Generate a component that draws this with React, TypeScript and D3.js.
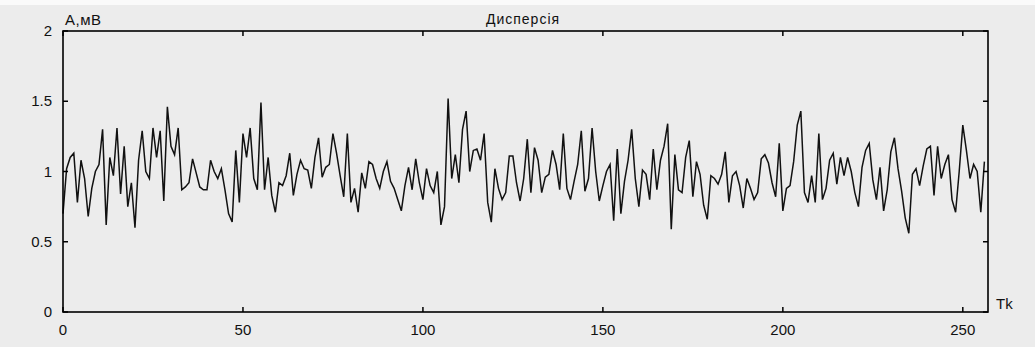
import React from "react";
import * as d3 from "d3";

const values: number[] = [
  0.70, 1.02, 1.10, 1.13, 0.78, 1.08, 0.95, 0.68, 0.88, 1.00,
  1.05, 1.30, 0.62, 1.10, 0.97, 1.31, 0.84, 1.18, 0.75, 0.92,
  0.60, 1.08, 1.29, 1.00, 0.95, 1.31, 1.10, 1.29, 0.79, 1.46,
  1.18, 1.12, 1.31, 0.87, 0.89, 0.92, 1.09, 0.99, 0.89, 0.87,
  0.87, 1.08, 1.00, 0.95, 1.02, 0.87, 0.70, 0.64, 1.15, 0.78,
  1.27, 1.10, 1.31, 0.95, 0.87, 1.49, 0.87, 1.10, 0.83, 0.71,
  0.92, 0.90, 0.97, 1.13, 0.83, 0.98, 1.08, 1.02, 1.01, 0.88,
  1.10, 1.24, 0.96, 1.03, 1.05, 1.27, 1.13, 0.97, 0.82, 1.27,
  0.78, 0.88, 0.71, 0.99, 0.88, 1.07, 1.05, 0.95, 0.88, 1.00,
  1.07, 0.93, 0.88, 0.80, 0.72, 0.90, 1.03, 0.87, 1.09, 0.92,
  0.80, 1.02, 0.90, 0.85, 1.00, 0.62, 0.75, 1.52, 0.95, 1.12,
  0.92, 1.30, 1.43, 1.00, 1.15, 1.16, 1.08, 1.27, 0.78, 0.64,
  1.02, 0.88, 0.80, 0.85, 1.11, 1.11, 0.92, 0.79, 0.95, 1.23,
  0.85, 1.17, 1.08, 0.85, 0.96, 0.98, 1.15, 1.05, 0.87, 1.27,
  0.88, 0.80, 0.93, 1.05, 1.29, 0.86, 0.95, 1.31, 1.00, 0.79,
  0.90, 1.00, 1.05, 0.65, 1.16, 0.70, 0.93, 1.08, 1.30, 0.95,
  0.75, 1.01, 0.98, 0.80, 1.16, 0.87, 1.08, 1.18, 1.34, 0.59,
  1.12, 0.87, 0.85, 1.10, 1.22, 0.82, 1.07, 0.98, 0.76, 0.66,
  0.97, 0.95, 0.91, 0.98, 1.14, 0.78, 0.97, 1.00, 0.90, 0.74,
  0.95, 0.88, 0.80, 0.85, 1.09, 1.12, 1.06, 0.92, 0.82, 1.20,
  0.72, 0.88, 0.90, 1.07, 1.33, 1.43, 0.85, 0.78, 0.97, 0.78,
  1.27, 0.80, 0.88, 1.08, 1.13, 0.91, 1.10, 0.97, 1.10, 1.00,
  0.85, 0.75, 1.03, 1.15, 1.20, 0.94, 0.80, 1.03, 0.72, 0.87,
  1.14, 1.24, 1.02, 0.86, 0.67, 0.56, 0.98, 1.02, 0.90, 1.04,
  1.16, 1.18, 0.83, 1.18, 0.95, 1.05, 1.12, 0.80, 0.71, 1.00,
  1.33, 1.15, 0.95, 1.05, 1.00, 0.71, 1.07,
];

const xTicks = [0, 50, 100, 150, 200, 250];
const yTicks = [0, 0.5, 1, 1.5, 2];
const yTickLabels = ["0", "0.5", "1", "1.5", "2"];
const title = "Дисперсія";
const yLabel = "A,мВ";
const xLabel = "Tk";

const W = 1035;
const H = 347;
const L = 63, R = 988, T = 31, B = 312;

export default function App() {
  const x = d3.scaleLinear().domain([0, 257]).range([L, R]);
  const y = d3.scaleLinear().domain([0, 2]).range([B, T]);
  const line = d3
    .line<number>()
    .x((_, i) => x(i))
    .y((d) => y(d));
  const font = "'Liberation Sans', Arial, sans-serif";
  const tl = 5;
  return (
    <svg
      width={W}
      height={H}
      style={{ position: "absolute", left: 0, top: 0, display: "block" }}
      fontFamily={font}
    >
      <rect x={0} y={0} width={W} height={H} fill="#ececec" />
      <rect x={0} y={0} width={W} height={5} fill="#fafafa" />
      <path d={line(values) || ""} fill="none" stroke="#111" strokeWidth={1.5} />
      <rect x={L} y={T} width={R - L} height={B - T} fill="none" stroke="#000" strokeWidth={1.6} />
      {xTicks.map((t) => (
        <g key={"x" + t}>
          <line x1={x(t)} x2={x(t)} y1={B} y2={B - tl} stroke="#000" strokeWidth={1.5} />
          <line x1={x(t)} x2={x(t)} y1={T} y2={T + tl} stroke="#000" strokeWidth={1.5} />
          <text x={x(t)} y={335} fontSize={15} textAnchor="middle" fill="#111">
            {t}
          </text>
        </g>
      ))}
      {yTicks.map((t, i) => (
        <g key={"y" + t}>
          <line x1={L} x2={L + tl} y1={y(t)} y2={y(t)} stroke="#000" strokeWidth={1.5} />
          <line x1={R} x2={R - tl} y1={y(t)} y2={y(t)} stroke="#000" strokeWidth={1.5} />
          <text x={52} y={y(t) + 5} fontSize={15} textAnchor="end" fill="#111">
            {yTickLabels[i]}
          </text>
        </g>
      ))}
      <text x={65} y={25} fontSize={15} letterSpacing={0.5} fill="#111">{yLabel}</text>
      <text x={523} y={24} fontSize={14} letterSpacing={1} textAnchor="middle" fill="#111">{title}</text>
      <text x={996} y={309} fontSize={15} fill="#111">{xLabel}</text>
    </svg>
  );
}
